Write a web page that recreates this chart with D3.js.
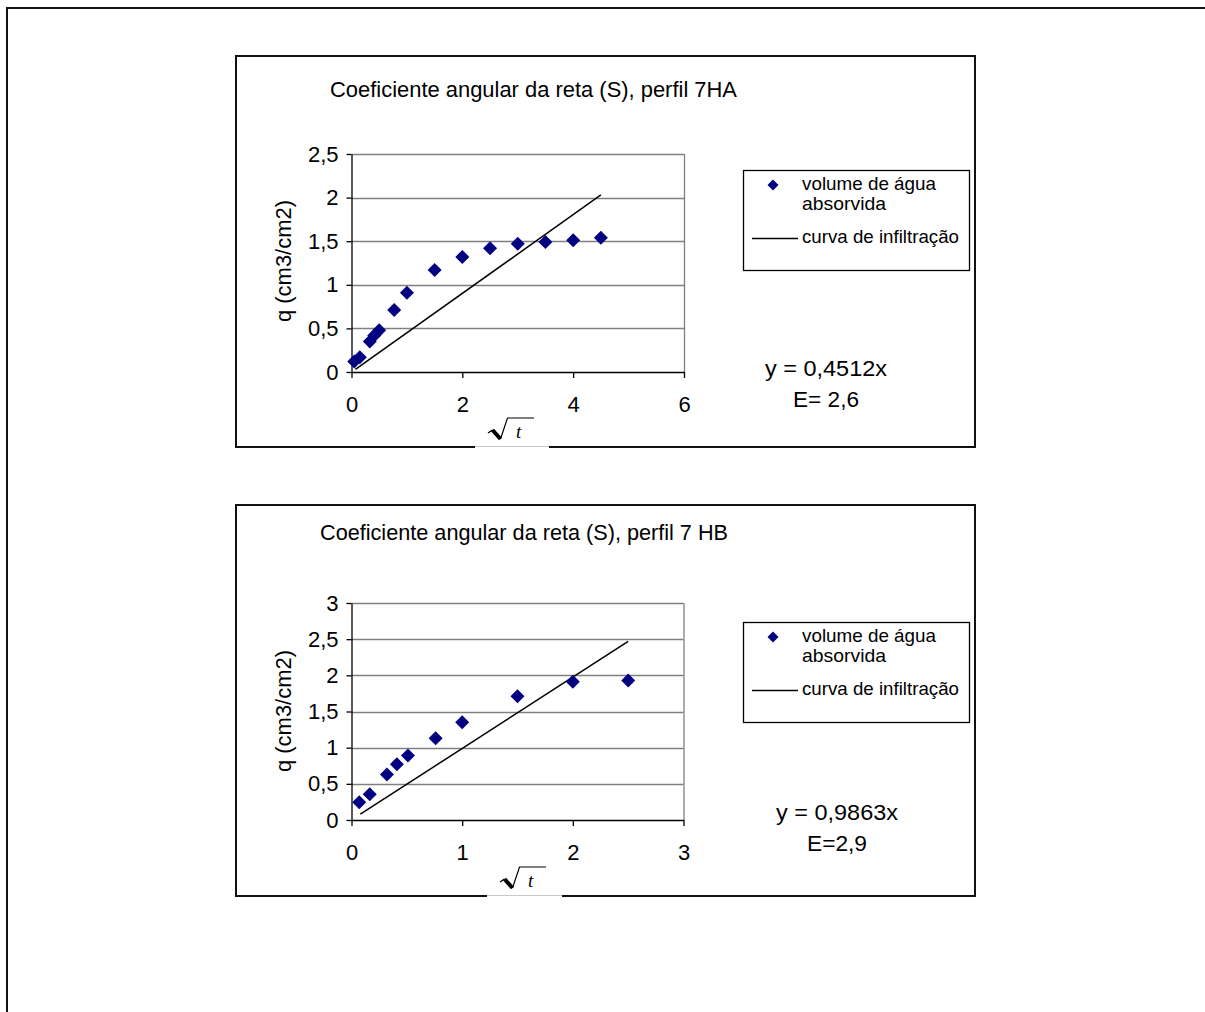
<!DOCTYPE html>
<html><head><meta charset="utf-8">
<script src="https://cdn.jsdelivr.net/npm/d3@7"></script>
<style>body{margin:0;background:#fff}svg{display:block}</style>
</head><body>
<script>
// ---------- data ----------
const chart1Title = "Coeficiente angular da reta (S), perfil 7HA";
const chart1X = [0.05, 0.15, 0.33, 0.41, 0.5, 0.77, 1, 1.5, 2, 2.5, 3, 3.5, 4, 4.5];
const chart1Y = [0.12, 0.17, 0.35, 0.42, 0.48, 0.71, 0.91, 1.17, 1.32, 1.42, 1.47, 1.49, 1.51, 1.54];
const chart1LineX = [0.07, 4.5];
const chart1LineY = [0.03, 2.03];
const chart1XTicks = [0, 2, 4, 6];
const chart1YTicks = [0, 0.5, 1, 1.5, 2, 2.5];
const chart1Equation = "y = 0,4512x";
const chart1E = "E= 2,6";

const chart2Title = "Coeficiente angular da reta (S), perfil 7 HB";
const chart2X = [0.07, 0.165, 0.32, 0.41, 0.51, 0.76, 1, 1.5, 2, 2.5];
const chart2Y = [0.245, 0.356, 0.63, 0.77, 0.89, 1.13, 1.35, 1.71, 1.91, 1.93];
const chart2LineX = [0.08, 2.5];
const chart2LineY = [0.08, 2.47];
const chart2XTicks = [0, 1, 2, 3];
const chart2YTicks = [0, 0.5, 1, 1.5, 2, 2.5, 3];
const chart2Equation = "y = 0,9863x";
const chart2E = "E=2,9";

const legendPointLabel = ["volume de água", "absorvida"];
const legendLineLabel = "curva de infiltração";
const yAxisTitle = "q (cm3/cm2)";

// ---------- drawing ----------
const W = 1205, H = 1012;
const FONT = "'Liberation Sans', Arial, sans-serif";
const FS = 22;
const svg = d3.select("body").append("svg").attr("width", W).attr("height", H);

// outer frame (top and left edges)
svg.append("line").attr("x1", 6).attr("x2", W).attr("y1", 8).attr("y2", 8)
  .attr("stroke", "#111").attr("stroke-width", 2);
svg.append("line").attr("x1", 7).attr("x2", 7).attr("y1", 7).attr("y2", H)
  .attr("stroke", "#111").attr("stroke-width", 2);

const fmt = d => String(d).replace(".", ",");

function drawChart(c) {
  const g = svg.append("g");
  // chart box
  g.append("rect").attr("x", c.box[0]).attr("y", c.box[1]).attr("width", c.box[2]).attr("height", c.box[3])
    .attr("fill", "#fff").attr("stroke", "#111").attr("stroke-width", 2);

  // title
  g.append("text").attr("x", c.titleX).attr("y", c.titleY)
    .attr("font-family", FONT).attr("font-size", FS).attr("fill", "#000")
    .attr("textLength", c.titleLen).attr("lengthAdjust", "spacingAndGlyphs")
    .text(c.title);

  const x = d3.scaleLinear().domain(c.xDomain).range(c.xRange);
  const y = d3.scaleLinear().domain(c.yDomain).range(c.yRange);

  // gridlines
  g.append("g").selectAll("line").data(c.yTicks.filter(d => d !== 0)).join("line")
    .attr("x1", c.xRange[0]).attr("x2", c.xRange[1])
    .attr("y1", d => Math.round(y(d)) + 0.5).attr("y2", d => Math.round(y(d)) + 0.5)
    .attr("stroke", "#808080").attr("stroke-width", 1.3);
  // plot area right border
  g.append("line").attr("x1", c.xRange[1] + 0.5).attr("x2", c.xRange[1] + 0.5)
    .attr("y1", y(c.yDomain[1])).attr("y2", y(0))
    .attr("stroke", "#808080").attr("stroke-width", 1.3);

  // axes
  const ya = g.append("g").attr("transform", `translate(${c.xRange[0]},0)`)
    .call(d3.axisLeft(y).tickValues(c.yTicks).tickSize(5).tickSizeOuter(0).tickPadding(8).tickFormat(fmt));
  const xa = g.append("g").attr("transform", `translate(0,${c.yRange[0]})`)
    .call(d3.axisBottom(x).tickValues(c.xTicks).tickSize(6).tickSizeOuter(0).tickPadding(18).tickFormat(fmt));
  [ya, xa].forEach(a => {
    a.selectAll("path, line").attr("stroke", "#000").attr("stroke-width", 1.3);
    a.selectAll("text").attr("font-family", FONT).attr("font-size", FS).attr("fill", "#000");
  });

  // regression line
  g.append("path")
    .datum(c.lineX.map((v, i) => [v, c.lineY[i]]))
    .attr("d", d3.line().x(d => x(d[0])).y(d => y(d[1])))
    .attr("fill", "none").attr("stroke", "#000").attr("stroke-width", 1.5);

  // diamonds
  const dia = s => `M0,${-s}L${s},0L0,${s}L${-s},0Z`;
  g.append("g").selectAll("path").data(c.px.map((v, i) => [v, c.py[i]])).join("path")
    .attr("transform", d => `translate(${x(d[0])},${y(d[1])})`)
    .attr("d", dia(7)).attr("fill", "#000080");

  // y axis title
  g.append("text").attr("transform", `translate(${c.yTitle[0]},${c.yTitle[1]}) rotate(-90)`)
    .attr("text-anchor", "middle").attr("font-family", FONT).attr("font-size", FS)
    .attr("textLength", 122).attr("lengthAdjust", "spacingAndGlyphs")
    .text(yAxisTitle);

  // sqrt(t) label (embedded object with light bottom edge over the box border)
  const [gx0, gx1] = c.gap;
  const by = c.box[1] + c.box[3];
  g.append("rect").attr("x", gx0).attr("y", by - 2).attr("width", gx1 - gx0).attr("height", 4).attr("fill", "#fff");
  g.append("line").attr("x1", gx0).attr("x2", gx1).attr("y1", by - 0.5).attr("y2", by - 0.5)
    .attr("stroke", "#c8c8c8").attr("stroke-width", 1);
  const s = g.append("g").attr("transform", `translate(${c.sqrt[0]},${c.sqrt[1]})`);
  s.append("path").attr("d", "M0,15 L4.5,12").attr("stroke", "#000").attr("stroke-width", 1.3).attr("fill", "none");
  s.append("path").attr("d", "M4.5,12 L12.5,21").attr("stroke", "#000").attr("stroke-width", 4).attr("fill", "none");
  s.append("path").attr("d", "M12.5,21 L19.5,0 L46,0").attr("stroke", "#000").attr("stroke-width", 1.2).attr("fill", "none");
  s.append("text").attr("x", 28).attr("y", 20).attr("font-family", "'Liberation Serif', 'Times New Roman', serif")
    .attr("font-style", "italic").attr("font-size", 19).text("t");

  // legend
  const L = c.legend;
  g.append("rect").attr("x", L[0] + 0.5).attr("y", L[1] + 0.5).attr("width", 226).attr("height", 100)
    .attr("fill", "#fff").attr("stroke", "#000").attr("stroke-width", 1.3);
  g.append("path").attr("transform", `translate(${L[0] + 30},${L[1] + 15})`).attr("d", dia(5.5)).attr("fill", "#000080");
  const lt = (tx, ty, str, len) => g.append("text").attr("x", tx).attr("y", ty)
    .attr("font-family", FONT).attr("font-size", 19).attr("fill", "#000")
    .attr("textLength", len).attr("lengthAdjust", "spacingAndGlyphs").text(str);
  lt(L[0] + 59, L[1] + 20, legendPointLabel[0], 134);
  lt(L[0] + 59, L[1] + 40, legendPointLabel[1], 84);
  g.append("line").attr("x1", L[0] + 9).attr("x2", L[0] + 55).attr("y1", L[1] + 68.5).attr("y2", L[1] + 68.5)
    .attr("stroke", "#000").attr("stroke-width", 1.5);
  lt(L[0] + 59, L[1] + 73, legendLineLabel, 157);

  // equation
  const eq = (ty, str, len) => g.append("text").attr("x", c.eqX).attr("y", ty).attr("text-anchor", "middle")
    .attr("font-family", FONT).attr("font-size", FS).attr("fill", "#000")
    .attr("textLength", len).attr("lengthAdjust", "spacingAndGlyphs").text(str);
  eq(c.eqY[0], c.equation, 122);
  eq(c.eqY[1], c.E, c.ELen);
}

drawChart({
  box: [236, 56, 739, 391], title: chart1Title, titleX: 330, titleY: 97, titleLen: 407,
  xDomain: [0, 6], xRange: [351.5, 684], yDomain: [0, 2.5], yRange: [372, 154],
  xTicks: chart1XTicks, yTicks: chart1YTicks,
  px: chart1X, py: chart1Y, lineX: chart1LineX, lineY: chart1LineY,
  yTitle: [291, 261], gap: [475, 549], sqrt: [488, 418],
  legend: [743, 170], eqX: 826, eqY: [376, 407], equation: chart1Equation, E: chart1E, ELen: 66
});

drawChart({
  box: [236, 505, 739, 391], title: chart2Title, titleX: 320, titleY: 540, titleLen: 408,
  xDomain: [0, 3], xRange: [351.5, 683.5], yDomain: [0, 3], yRange: [820, 603],
  xTicks: chart2XTicks, yTicks: chart2YTicks,
  px: chart2X, py: chart2Y, lineX: chart2LineX, lineY: chart2LineY,
  yTitle: [291, 711], gap: [487, 562], sqrt: [500, 867],
  legend: [743, 622], eqX: 837, eqY: [820, 851], equation: chart2Equation, E: chart2E, ELen: 60
});
</script>
</body></html>
